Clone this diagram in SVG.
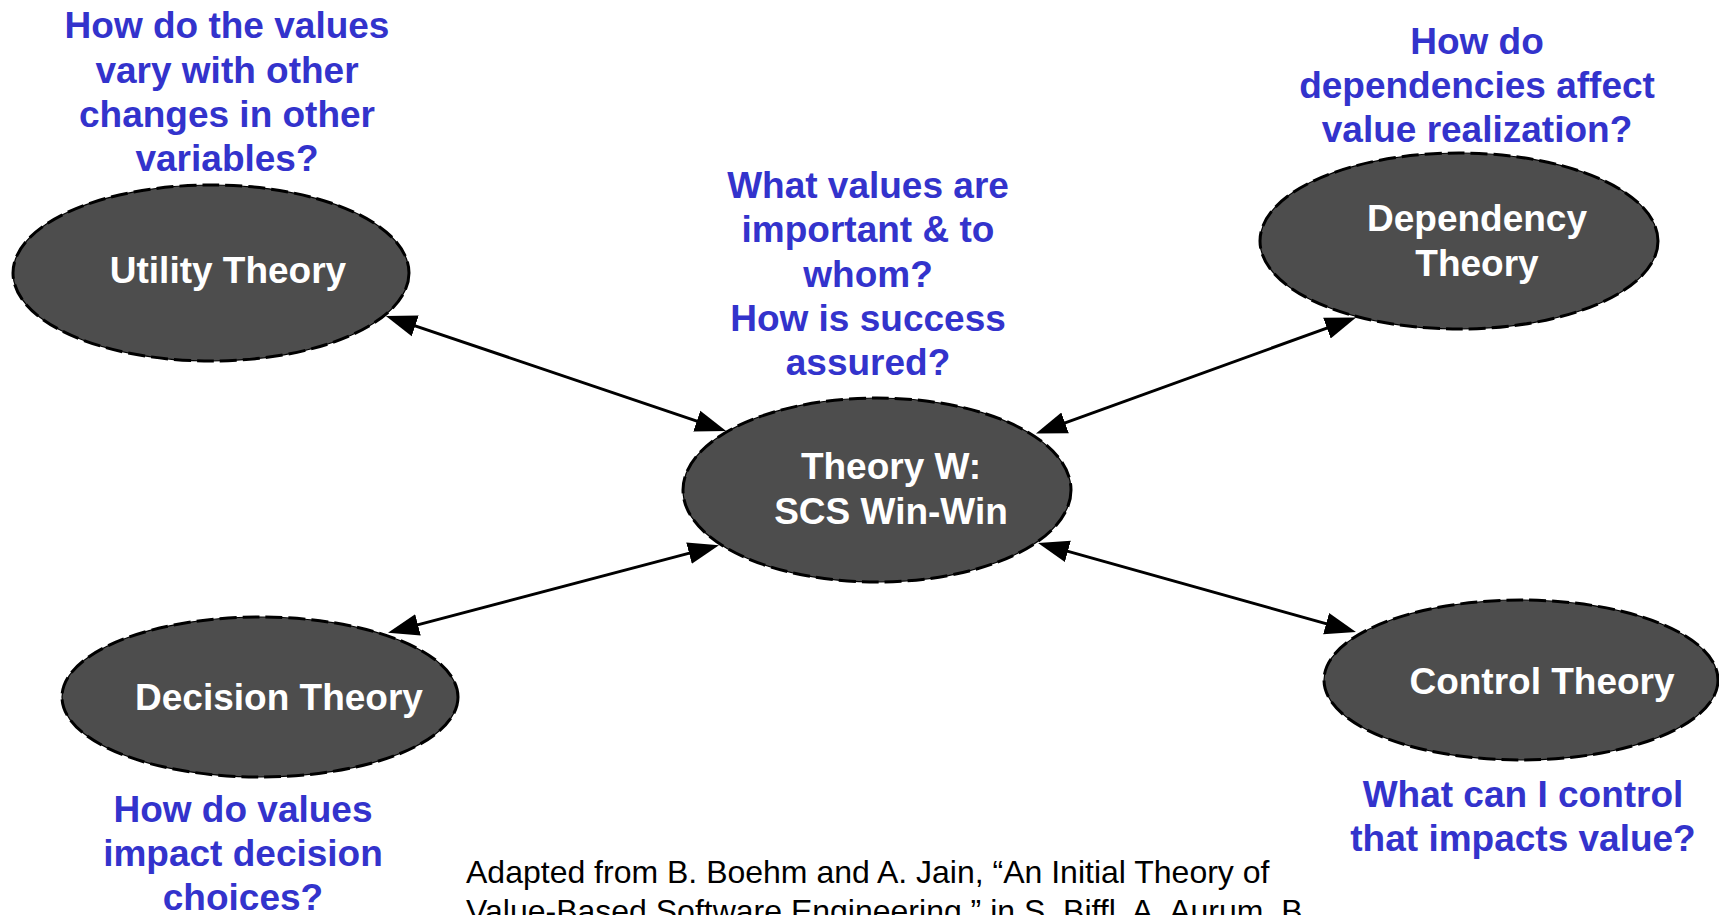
<svg xmlns="http://www.w3.org/2000/svg" width="1719" height="915" viewBox="0 0 1719 915">
  <style>
    .node-fill { fill: #4d4d4d; stroke: #000; stroke-width: 1.2; }
    .node-dash { fill: none; stroke: #000; stroke-width: 3; stroke-dasharray: 17 6; }
    .node-label { font-family: "Liberation Sans", Arial, sans-serif; font-weight: bold; font-size: 37px; fill: #ffffff; text-anchor: middle; }
    .question { font-family: "Liberation Sans", Arial, sans-serif; font-weight: bold; font-size: 37px; fill: #3333cc; text-anchor: middle; }
    .cite { font-family: "Liberation Sans", Arial, sans-serif; font-size: 32px; fill: #000; }
    .link { stroke: #000; stroke-width: 3; fill: none; marker-start: url(#head); marker-end: url(#head); }
  </style>
  <defs>
    <marker id="head" markerUnits="userSpaceOnUse" markerWidth="32" markerHeight="24" viewBox="0 0 32 24" refX="22" refY="12" orient="auto-start-reverse">
      <path d="M0,1 L31,12 L0,23 Z" fill="#000"/>
    </marker>
  </defs>

  <!-- nodes -->
  <g id="utility">
    <ellipse class="node-fill" cx="211" cy="273" rx="198" ry="88"/>
    <ellipse class="node-dash" cx="211" cy="273" rx="198" ry="88"/>
    <text class="node-label" x="228" y="283">Utility Theory</text>
  </g>
  <g id="theory-w">
    <ellipse class="node-fill" cx="877" cy="490" rx="194" ry="92"/>
    <ellipse class="node-dash" cx="877" cy="490" rx="194" ry="92"/>
    <text class="node-label" x="891" y="479">Theory W:</text>
    <text class="node-label" x="891" y="524">SCS Win-Win</text>
  </g>
  <g id="dependency">
    <ellipse class="node-fill" cx="1459" cy="241" rx="199" ry="88"/>
    <ellipse class="node-dash" cx="1459" cy="241" rx="199" ry="88"/>
    <text class="node-label" x="1477" y="231">Dependency</text>
    <text class="node-label" x="1477" y="276">Theory</text>
  </g>
  <g id="decision">
    <ellipse class="node-fill" cx="260" cy="697" rx="198" ry="80"/>
    <ellipse class="node-dash" cx="260" cy="697" rx="198" ry="80"/>
    <text class="node-label" x="279" y="710">Decision Theory</text>
  </g>
  <g id="control">
    <ellipse class="node-fill" cx="1521" cy="680" rx="197" ry="80"/>
    <ellipse class="node-dash" cx="1521" cy="680" rx="197" ry="80"/>
    <text class="node-label" x="1542" y="694">Control Theory</text>
  </g>

  <!-- connectors -->
  <g id="connectors">
    <line class="link" x1="394.4" y1="318.8" x2="717.6" y2="428.2"/>
    <line class="link" x1="1347.6" y1="320.6" x2="1044.4" y2="430.4"/>
    <line class="link" x1="396.7" y1="630.4" x2="710.3" y2="547.6"/>
    <line class="link" x1="1347.3" y1="629.6" x2="1046.7" y2="545.4"/>
  </g>

  <!-- questions -->
  <g id="q-utility">
    <text class="question" x="227" y="38">How do the values</text>
    <text class="question" x="227" y="83">vary with other</text>
    <text class="question" x="227" y="127">changes in other</text>
    <text class="question" x="227" y="171">variables?</text>
  </g>
  <g id="q-theory-w">
    <text class="question" x="868" y="198">What values are</text>
    <text class="question" x="868" y="242">important &amp; to</text>
    <text class="question" x="868" y="287">whom?</text>
    <text class="question" x="868" y="331">How is success</text>
    <text class="question" x="868" y="375">assured?</text>
  </g>
  <g id="q-dependency">
    <text class="question" x="1477" y="54">How do</text>
    <text class="question" x="1477" y="98">dependencies affect</text>
    <text class="question" x="1477" y="142">value realization?</text>
  </g>
  <g id="q-decision">
    <text class="question" x="243" y="822">How do values</text>
    <text class="question" x="243" y="866">impact decision</text>
    <text class="question" x="243" y="910">choices?</text>
  </g>
  <g id="q-control">
    <text class="question" x="1523" y="807">What can I control</text>
    <text class="question" x="1523" y="851">that impacts value?</text>
  </g>

  <!-- source note -->
  <g id="source">
    <text class="cite" x="466" y="883">Adapted from B. Boehm and A. Jain, “An Initial Theory of</text>
    <text class="cite" x="466" y="922">Value-Based Software Engineering,” in S. Biffl, A. Aurum, B</text>
  </g>
</svg>
